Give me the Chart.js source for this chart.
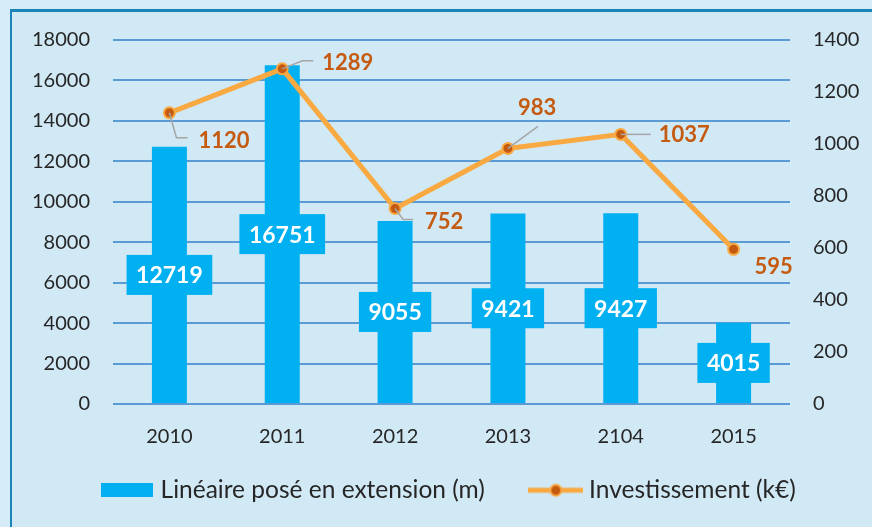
<!DOCTYPE html>
<html>
<head>
<meta charset="utf-8">
<script src="https://cdn.jsdelivr.net/npm/chart.js@4.4.1/dist/chart.umd.min.js"></script>
<style>
  html, body { margin: 0; padding: 0; }
  body { width: 872px; height: 527px; background: #d5ecf8; position: relative; overflow: hidden; }
  #panel { position: absolute; left: 10px; top: 9px; right: -4px; bottom: -4px;
           border-left: 2px solid #1a84b8; border-top: 3px solid #1a84b8; background: #d1e8f5; }
  #chart { position: absolute; left: 0; top: 0; }
</style>
</head>
<body>
<div id="panel"></div>
<canvas id="chart" width="872" height="527"></canvas>
<script>
// data
var years = ['2010', '2011', '2012', '2013', '2104', '2015'];
var lineaire = [12719, 16751, 9055, 9421, 9427, 4015];
var invest = [1120, 1289, 752, 983, 1037, 595];
var leftTicks = { min: 0, max: 18000, step: 2000 };
var rightTicks = { min: 0, max: 1400, step: 200 };

// colors
var barColor = '#00b0f0';
var lineColor = '#f9a942';
var pointColor = '#c55a11';
var textColor = '#262626';
var gridColor = '#5b9bd5';

// where each orange label sits relative to its point (+ leader line)
var investLabelPos = [
  { dx: 29, dy: 27, leader: [[7, 25], [18, 25]] },
  { dx: 40, dy: -7, leader: [[20, -8], [31, -8]] },
  { dx: 30, dy: 12, leader: [[8, 11], [18, 11]] },
  { dx: 10, dy: -42, leader: [[30, -22]] },
  { dx: 38, dy: 0, leader: [[30, 0]] },
  { dx: 21, dy: 17, leader: [] }
];

// legend symbols
function barSymbol() {
  var c = document.createElement('canvas');
  c.width = 52; c.height = 14;
  var g = c.getContext('2d');
  g.fillStyle = barColor;
  g.fillRect(0, 0, 52, 14);
  return c;
}
function lineSymbol() {
  var c = document.createElement('canvas');
  c.width = 55; c.height = 16;
  var g = c.getContext('2d');
  g.strokeStyle = lineColor; g.lineWidth = 5;
  g.beginPath(); g.moveTo(0, 8); g.lineTo(55, 8); g.stroke();
  g.beginPath(); g.arc(27.5, 8, 5.5, 0, Math.PI * 2);
  g.fillStyle = pointColor; g.fill();
  g.lineWidth = 2; g.stroke();
  return c;
}
var symbols = [barSymbol(), lineSymbol()];

// value labels
var valueLabels = {
  id: 'valueLabels',
  afterDatasetsDraw: function(chart) {
    var ctx = chart.ctx;
    ctx.save();
    // bar labels: white text in a blue box at mid bar
    var bars = chart.getDatasetMeta(0).data;
    ctx.font = 'bold 23px Lato';
    ctx.textAlign = 'center';
    ctx.textBaseline = 'middle';
    bars.forEach(function(bar, i) {
      var txt = String(lineaire[i]);
      var w = ctx.measureText(txt).width + 19;
      var cy = (bar.y + bar.base) / 2;
      ctx.fillStyle = barColor;
      ctx.fillRect(bar.x - w / 2, cy - 20, w, 40);
      ctx.fillStyle = '#ffffff';
      ctx.fillText(txt, bar.x, cy + 1);
    });
    // line labels with leader lines
    var pts = chart.getDatasetMeta(1).data;
    ctx.font = 'bold 22px Lato';
    ctx.textAlign = 'left';
    pts.forEach(function(p, i) {
      var pos = investLabelPos[i];
      if (pos.leader.length) {
        ctx.strokeStyle = '#a6a6a6';
        ctx.lineWidth = 1.5;
        ctx.beginPath();
        ctx.moveTo(p.x, p.y);
        pos.leader.forEach(function(l) { ctx.lineTo(p.x + l[0], p.y + l[1]); });
        ctx.stroke();
      }
      ctx.fillStyle = pointColor;
      ctx.fillText(String(invest[i]), p.x + pos.dx, p.y + pos.dy + 1);
    });
    ctx.restore();
  }
};

// pull the legend's top edge up so its row sits closer to the axis labels
var legendNudge = {
  id: 'legendNudge',
  afterLayout: function(chart) {
    chart.legend.top -= 26;
  }
};

var tickFont = { family: 'Lato', size: 20 };
var plain = function(v) { return String(v); };

new Chart(document.getElementById('chart'), {
  data: {
    labels: years,
    datasets: [
      {
        type: 'bar',
        label: 'Linéaire posé en extension (m)',
        data: lineaire,
        backgroundColor: barColor,
        barPercentage: 0.31,
        categoryPercentage: 1.0,
        yAxisID: 'y',
        order: 1
      },
      {
        type: 'line',
        label: 'Investissement (k€)',
        data: invest,
        borderColor: lineColor,
        borderWidth: 5,
        pointBackgroundColor: pointColor,
        pointBorderColor: lineColor,
        pointBorderWidth: 2,
        pointRadius: 5.5,
        tension: 0,
        yAxisID: 'y1',
        order: 0
      }
    ]
  },
  options: {
    responsive: false,
    animation: false,
    layout: { padding: { top: 40, bottom: 13, left: 30, right: 0 } },
    scales: {
      x: {
        grid: { display: false },
        border: { display: false },
        ticks: { color: textColor, font: tickFont, padding: 13 },
        afterFit: function(s) { s.height = 50; }
      },
      y: {
        position: 'left',
        min: leftTicks.min, max: leftTicks.max,
        ticks: { stepSize: leftTicks.step, color: textColor, font: tickFont, padding: 23, callback: plain },
        grid: { color: gridColor, lineWidth: 2, drawTicks: false },
        border: { display: false },
        afterFit: function(s) { s.width = 83; }
      },
      y1: {
        position: 'right',
        min: rightTicks.min, max: rightTicks.max,
        ticks: { stepSize: rightTicks.step, color: textColor, font: tickFont, padding: 23, callback: plain },
        grid: { drawOnChartArea: false, drawTicks: false },
        border: { display: false },
        afterFit: function(s) { s.width = 82; }
      }
    },
    plugins: {
      tooltip: { enabled: false },
      legend: {
        position: 'bottom',
        maxHeight: 60,
        labels: {
          color: textColor,
          font: { family: 'Lato', size: 24.5 },
          padding: 50,
          usePointStyle: true,
          pointStyleWidth: 42,
          generateLabels: function(chart) {
            return chart.data.datasets.map(function(ds, i) {
              return { text: ds.label, pointStyle: symbols[i], datasetIndex: i,
                       fontColor: textColor, lineWidth: 0, strokeStyle: 'transparent', fillStyle: 'transparent' };
            });
          }
        }
      }
    }
  },
  plugins: [valueLabels, legendNudge]
});
</script>
</body>
</html>
